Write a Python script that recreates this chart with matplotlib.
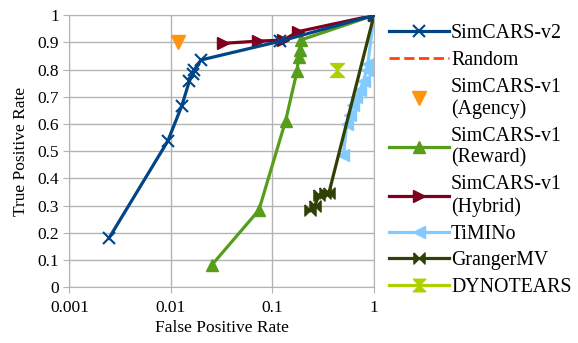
import matplotlib
matplotlib.use("Agg")
import matplotlib.pyplot as plt
from matplotlib.ticker import FixedLocator, FixedFormatter
from matplotlib.lines import Line2D

plt.rcParams['font.family'] = ['Liberation Serif', 'DejaVu Serif']

# Data (False Positive Rate, True Positive Rate)
v2_fpr = [0.00245, 0.0093, 0.0128, 0.0152, 0.0164, 0.0170, 0.0199, 0.12, 1.0]
v2_tpr = [0.18, 0.537, 0.667, 0.758, 0.784, 0.80, 0.836, 0.905, 1.0]

random_fpr = [1.0]
random_tpr = [1.0]

agency_fpr = [0.0118]
agency_tpr = [0.90]

reward_fpr = [0.0253, 0.0736, 0.135, 0.175, 0.181, 0.186, 0.19, 1.0]
reward_tpr = [0.082, 0.284, 0.613, 0.796, 0.848, 0.873, 0.909, 1.0]

hybrid_fpr = [0.0328, 0.0724, 0.128, 0.179, 1.0]
hybrid_tpr = [0.897, 0.905, 0.909, 0.94, 1.0]

timino_fpr = [0.50, 0.54, 0.58, 0.62, 0.67, 0.73, 0.79, 0.85, 0.87, 1.0]
timino_tpr = [0.486, 0.60, 0.633, 0.67, 0.70, 0.725, 0.76, 0.80, 0.82, 1.0]

granger_fpr = [0.234, 0.26, 0.29, 0.33, 0.36, 1.0]
granger_tpr = [0.284, 0.30, 0.34, 0.347, 0.347, 1.0]

dyno_fpr = [0.43]
dyno_tpr = [0.80]

x_ticks = [0.001, 0.01, 0.1, 1]
x_labels = ["0.001", "0.01", "0.1", "1"]
y_ticks = [0, 0.1, 0.2, 0.3, 0.4, 0.5, 0.6, 0.7, 0.8, 0.9, 1]
y_labels = ["0", "0.1", "0.2", "0.3", "0.4", "0.5", "0.6", "0.7", "0.8", "0.9", "1"]

hourglass = [(-1, 1), (1, 1), (-1, -1), (1, -1), (-1, 1)]
bowtie = [(-1, 1), (1, -1), (1, 1), (-1, -1), (-1, 1)]

fig = plt.figure(figsize=(5.78, 3.43), dpi=100)
ax = fig.add_axes([0.12, 0.1624, 0.527, 0.793])

lw = 2.3
ax.plot(v2_fpr, v2_tpr, color='#004586', lw=lw, marker='x', ms=8, mew=1.5,
        label='SimCARS-v2', zorder=9)
ax.plot(random_fpr, random_tpr, color='#ff420e', lw=2, ls='--', label='Random')
ax.plot(agency_fpr, agency_tpr, color='#ff950e', lw=0, marker='v', ms=10,
        label='SimCARS-v1\n(Agency)')
ax.plot(reward_fpr, reward_tpr, color='#579d1c', lw=lw, marker='^', ms=8,
        label='SimCARS-v1\n(Reward)')
ax.plot(hybrid_fpr, hybrid_tpr, color='#7e0021', lw=lw, marker='>', ms=8,
        label='SimCARS-v1\n(Hybrid)')
ax.plot(timino_fpr, timino_tpr, color='#83caff', lw=lw, marker='<', ms=8,
        label='TiMINo')
ax.plot(granger_fpr, granger_tpr, color='#314004', lw=lw, marker=bowtie, ms=8,
        label='GrangerMV')
ax.plot(dyno_fpr, dyno_tpr, color='#aecf00', lw=0, marker=hourglass, ms=10,
        label='DYNOTEARS')

ax.set_xscale('log')
ax.set_xlim(0.001, 1)
ax.set_ylim(0, 1)
ax.xaxis.set_major_locator(FixedLocator(x_ticks))
ax.xaxis.set_major_formatter(FixedFormatter(x_labels))
ax.xaxis.set_minor_locator(FixedLocator([]))
ax.yaxis.set_major_locator(FixedLocator(y_ticks))
ax.yaxis.set_major_formatter(FixedFormatter(y_labels))
ax.grid(True, color='#b3b3b3', lw=1)
ax.set_axisbelow(True)
for s in ax.spines.values():
    s.set_color('#b3b3b3')
ax.tick_params(colors='#b3b3b3', labelcolor='black', labelsize=12.5, length=4)
ax.tick_params(axis='x', pad=5)
ax.set_xlabel('False Positive Rate', fontsize=12.5, labelpad=3)
ax.set_ylabel('True Positive Rate', fontsize=12.5, labelpad=6)

handles, labels = ax.get_legend_handles_labels()
handles[7] = Line2D([], [], color='#aecf00', lw=lw, marker=hourglass, ms=9)
leg = fig.legend(handles, labels, loc='upper left', bbox_to_anchor=(0.66, 0.952),
                 frameon=False, fontsize=14.3, handlelength=3.0, handletextpad=0.1,
                 labelspacing=0.38, borderaxespad=0)
for t in leg.get_texts():
    t.set_linespacing(1.2)
fig.savefig('out.png', dpi=100)
